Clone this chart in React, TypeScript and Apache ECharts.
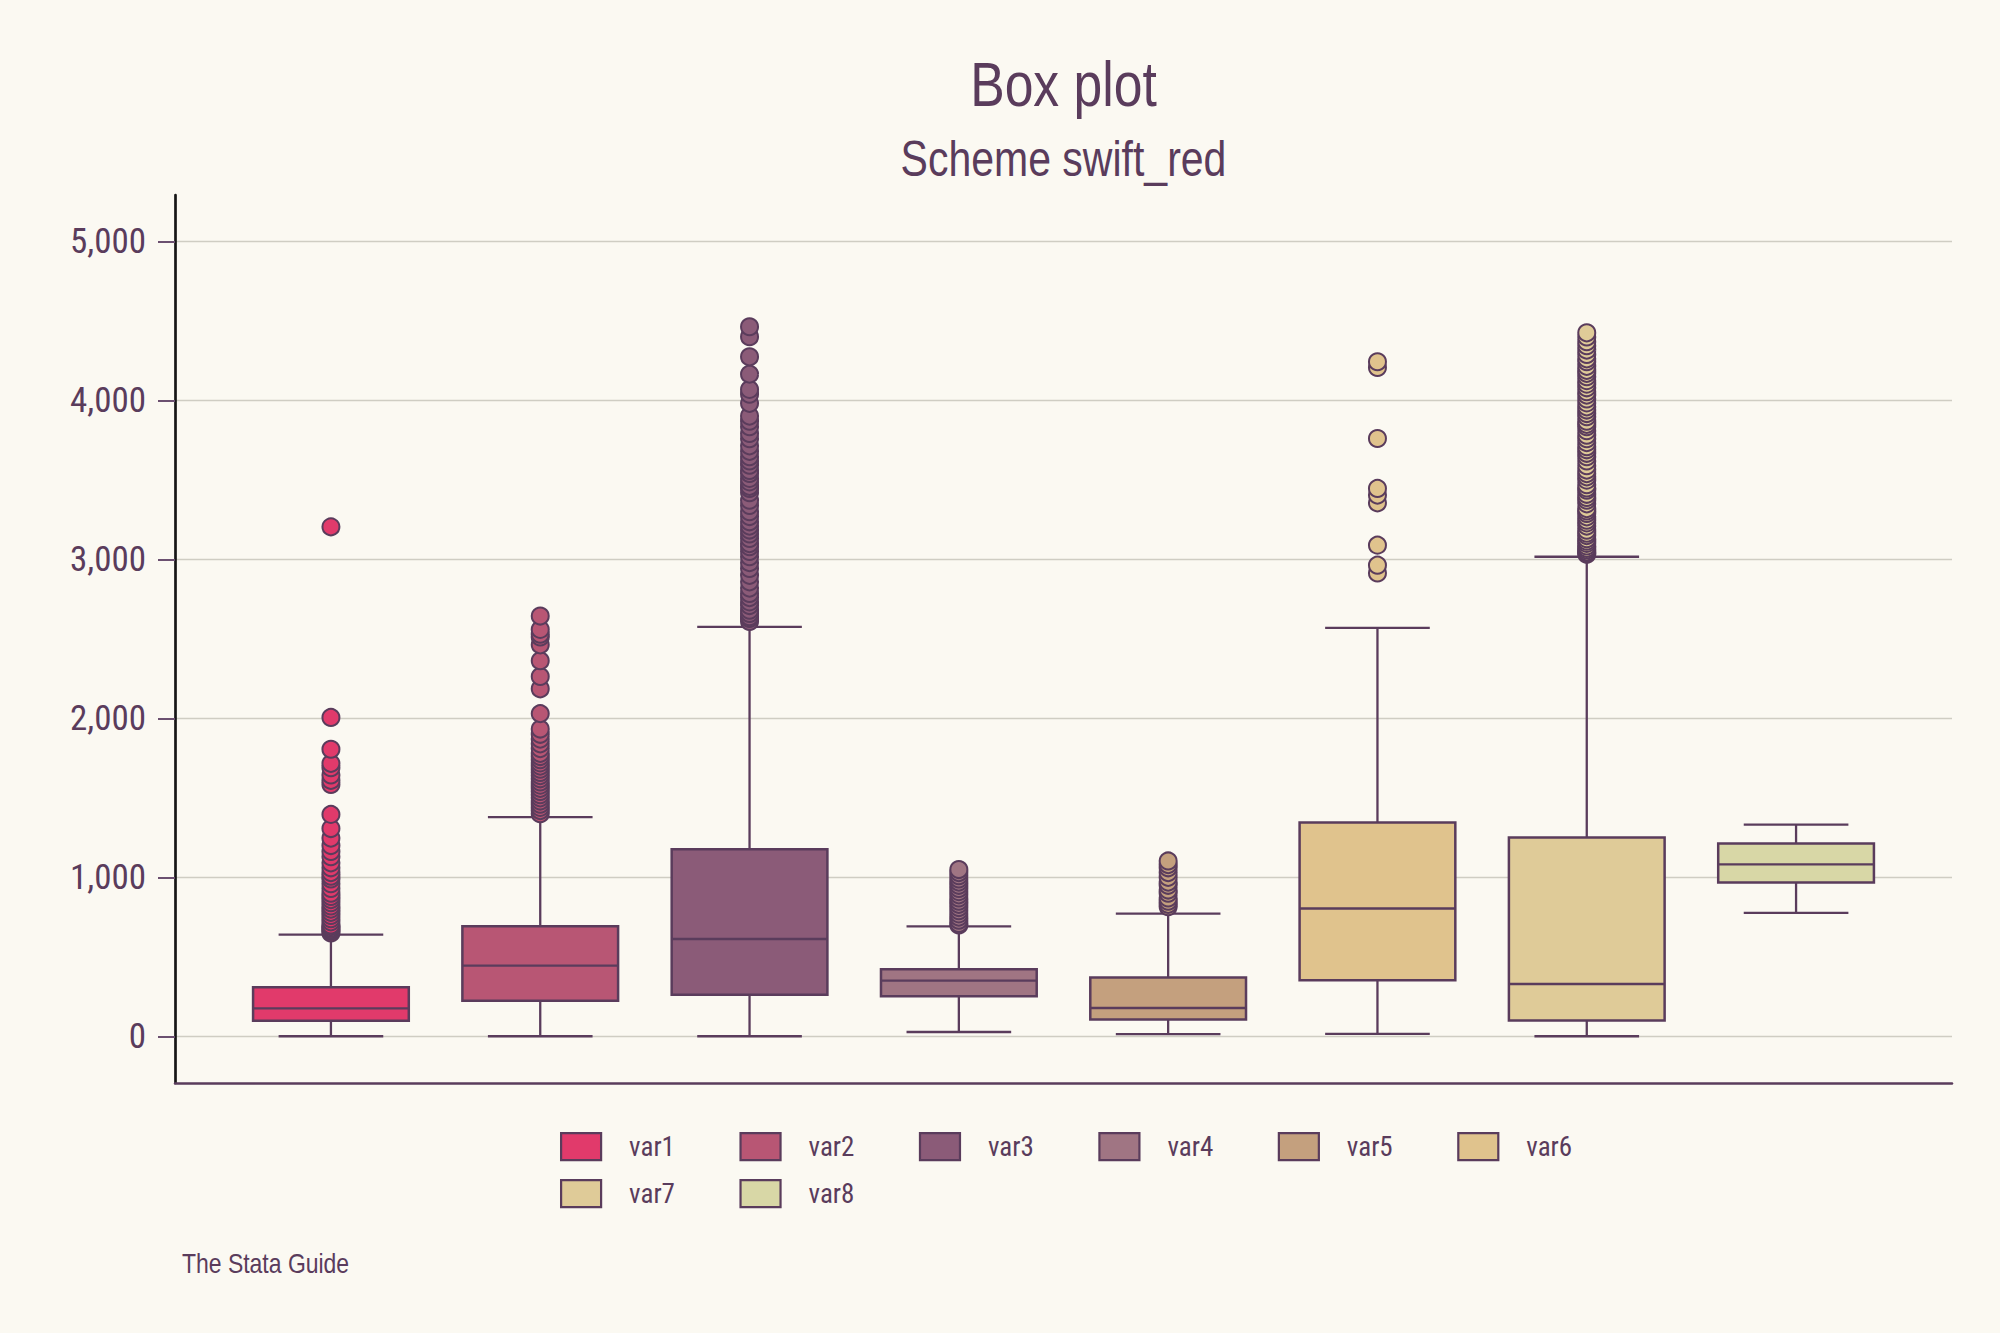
import React, { useEffect, useRef } from "react";
import * as echarts from "echarts";

// ---------- data ----------
const categories = ["var1", "var2", "var3", "var4", "var5", "var6", "var7", "var8"];
const legendRow1 = ["var1", "var2", "var3", "var4", "var5", "var6"];
const legendRow2 = ["var7", "var8"];
const positions = [1, 2, 3, 4, 5, 6, 7, 8];
const lowerWhisker = [0, 0, 0, 27, 13, 15, 0, 776];
const lowerQuartile = [98, 223, 262, 252, 105, 352, 99, 967];
const medianValue = [176, 445, 612, 350, 178, 804, 329, 1082];
const upperQuartile = [308, 693, 1177, 422, 369, 1345, 1250, 1213];
const upperWhisker = [640, 1379, 2576, 692, 772, 2570, 3017, 1332];

const outliersVar1 = [
  3205, 2006, 1806, 1717, 1690, 1644, 1610, 1584, 1396, 1307, 1247, 1200, 1163, 1130,
  1091, 1060, 1030, 1007, 990, 960, 930, 900, 880, 860, 840, 820, 800, 780, 760, 740,
  720, 700, 690, 680, 670, 660, 650,
];
const outliersVar2 = [
  2644, 2560, 2530, 2512, 2463, 2363, 2264, 2186, 2030, 1933, 1900, 1870, 1840, 1810,
  1780, 1760, 1740, 1720, 1700, 1680, 1660, 1640, 1620, 1600, 1580, 1560, 1540, 1520,
  1500, 1480, 1460, 1440, 1420, 1400,
];
const outliersVar3 = [
  4464, 4401, 4275, 4166, 4070, 4040, 3982, 3902, 3870, 3835, 3793, 3760, 3715, 3680,
  3646, 3620, 3593, 3560, 3541, 3510, 3488, 3460, 3447, 3420, 3373, 3340, 3300, 3270,
  3237, 3210, 3185, 3160, 3132, 3100, 3080, 3050, 3017, 2980, 2943, 2900, 2859, 2820,
  2786, 2760, 2733, 2710, 2681, 2660, 2640, 2629, 2610,
];
const outliersVar4 = [
  1049, 1030, 1010, 990, 970, 950, 930, 910, 890, 870, 850, 830, 810, 790, 770, 750,
  730, 710, 700,
];
const outliersVar5 = [1103, 1080, 1060, 1030, 1000, 970, 950, 920, 900, 870, 850, 830, 815];
const outliersVar6 = [4244, 4208, 3761, 3447, 3405, 3356, 3090, 2964, 2915];
const outliersVar7 = [
  4426, 4400, 4370, 4345, 4317, 4290, 4262, 4244, 4215, 4190, 4171, 4150, 4125, 4103,
  4080, 4055, 4034, 4010, 3985, 3960, 3940, 3918, 3898, 3870, 3850, 3835, 3810, 3782,
  3760, 3735, 3709, 3690, 3668, 3646, 3620, 3590, 3562, 3540, 3520, 3499, 3470, 3450,
  3436, 3410, 3390, 3373, 3350, 3320, 3305, 3289, 3268, 3247, 3230, 3210, 3184, 3165,
  3150, 3130, 3115, 3101, 3085, 3070, 3060, 3048, 3040, 3032,
];
const outliersVar8: number[] = [];
const outliers = [
  outliersVar1, outliersVar2, outliersVar3, outliersVar4,
  outliersVar5, outliersVar6, outliersVar7, outliersVar8,
];
const yTicks = [0, 1000, 2000, 3000, 4000, 5000];

// ---------- styles ----------
const fillColors = [
  "#e13a6b", "#b85674", "#8b5b78", "#a07583",
  "#c4a07e", "#e0c38d", "#dfcb98", "#d8d7a6",
];
const OUTLINE = "#5a3c5c";
const TEXT = "#5a3c5c";
const BG = "#fbf9f2";
const FONT = '"Roboto Condensed", "DejaVu Sans Condensed", sans-serif';
const TITLE_FONT = '"Liberation Sans", Arial, sans-serif';
const NARROW = 0.82;
const BOX_W = 0.744;
const CAP_W = 0.5;

function legendFor(names: string[], top: number) {
  return {
    left: 555,
    top,
    orient: "horizontal",
    itemWidth: 40,
    itemHeight: 27,
    itemGap: 64.5,
    selectedMode: false,
    icon: "rect",
    formatter: "{s| }{name}",
    textStyle: {
      fontSize: 27,
      color: TEXT,
      fontFamily: FONT,
      rich: { s: { width: 23, fontSize: 27, fontFamily: FONT } },
    },
    data: names.map((name) => {
      const i = categories.indexOf(name);
      return {
        name,
        icon: "rect",
        itemStyle: { color: fillColors[i], borderColor: OUTLINE, borderWidth: 2.2 },
      };
    }),
  };
}

function buildOption() {
  const series: any[] = [];
  categories.forEach((name, i) => {
    const color = fillColors[i];
    series.push({
      type: "custom",
      name,
      data: [[positions[i], lowerWhisker[i], lowerQuartile[i], medianValue[i], upperQuartile[i], upperWhisker[i]]],
      encode: { x: 0, y: [1, 2, 3, 4, 5] },
      itemStyle: { color, borderColor: OUTLINE },
      renderItem: (params: any, api: any) => {
        const x = api.value(0);
        const pLw = api.coord([x, api.value(1)]);
        const pQ1 = api.coord([x, api.value(2)]);
        const pMd = api.coord([x, api.value(3)]);
        const pQ3 = api.coord([x, api.value(4)]);
        const pUw = api.coord([x, api.value(5)]);
        const bw = api.size([BOX_W, 0])[0];
        const cw = api.size([CAP_W, 0])[0];
        const cx = pMd[0];
        const ls = { stroke: OUTLINE, lineWidth: 2.3 };
        return {
          type: "group",
          children: [
            { type: "line", shape: { x1: cx, y1: pUw[1], x2: cx, y2: pQ3[1] }, style: ls },
            { type: "line", shape: { x1: cx, y1: pQ1[1], x2: cx, y2: pLw[1] }, style: ls },
            { type: "line", shape: { x1: cx - cw / 2, y1: pUw[1], x2: cx + cw / 2, y2: pUw[1] }, style: ls },
            { type: "line", shape: { x1: cx - cw / 2, y1: pLw[1], x2: cx + cw / 2, y2: pLw[1] }, style: ls },
            {
              type: "rect",
              shape: { x: cx - bw / 2, y: pQ3[1], width: bw, height: pQ1[1] - pQ3[1] },
              style: { fill: color, stroke: OUTLINE, lineWidth: 2.5 },
            },
            { type: "line", shape: { x1: cx - bw / 2, y1: pMd[1], x2: cx + bw / 2, y2: pMd[1] }, style: ls },
          ],
        };
      },
      z: 2,
    });
    series.push({
      type: "scatter",
      name,
      data: outliers[i].slice().sort((a, b) => a - b).map((v) => [positions[i], v]),
      symbol: "circle",
      symbolSize: 17,
      itemStyle: { color, borderColor: OUTLINE, borderWidth: 2, opacity: 1 },
      z: 3,
    });
  });

  const textStyle = (text: string, fontSize: number, align: string) => ({
    text,
    fill: TEXT,
    fontSize,
    fontFamily: TITLE_FONT,
    align,
    verticalAlign: "middle",
    textAlign: align,
    textVerticalAlign: "middle",
  });

  return {
    animation: false,
    backgroundColor: BG,
    grid: { left: 175, right: 48, top: 195, bottom: 250, containLabel: false },
    xAxis: {
      type: "value",
      min: 0.255,
      max: 8.745,
      axisLine: { show: true, onZero: false, lineStyle: { color: OUTLINE, width: 2.5 } },
      axisTick: { show: false },
      axisLabel: { show: false },
      splitLine: { show: false },
    },
    yAxis: {
      type: "value",
      min: -294,
      max: 5293,
      axisLine: { show: true, onZero: false, lineStyle: { color: "#161616", width: 2.7 } },
      axisTick: { show: true, customValues: yTicks, length: 17, lineStyle: { color: "#6b5070", width: 2 } },
      axisLabel: {
        customValues: yTicks,
        formatter: (v: number) => v.toLocaleString("en-US"),
        margin: 29,
        fontSize: 35,
        color: TEXT,
        fontFamily: FONT,
      },
      splitLine: { show: true, lineStyle: { color: "#cfcdc3", width: 1.3 } },
    },
    legend: [legendFor(legendRow1, 1127), legendFor(legendRow2, 1174)],
    graphic: [
      { type: "text", x: 1063.5, y: 84, scaleX: NARROW, style: textStyle("Box plot", 63, "center") },
      { type: "text", x: 1063.5, y: 159, scaleX: NARROW, style: textStyle("Scheme swift_red", 50, "center") },
      { type: "text", x: 182, y: 1263, scaleX: NARROW, style: textStyle("The Stata Guide", 28, "left") },
    ],
    series,
  };
}

export default function App() {
  const ref = useRef<HTMLDivElement>(null);
  useEffect(() => {
    if (!ref.current) return;
    const chart = echarts.init(ref.current, undefined, { renderer: "svg" });
    chart.setOption(buildOption() as any);
    return () => chart.dispose();
  }, []);
  return (
    <div
      ref={ref}
      style={{ position: "fixed", left: 0, top: 0, width: 2000, height: 1333, background: BG }}
    />
  );
}
